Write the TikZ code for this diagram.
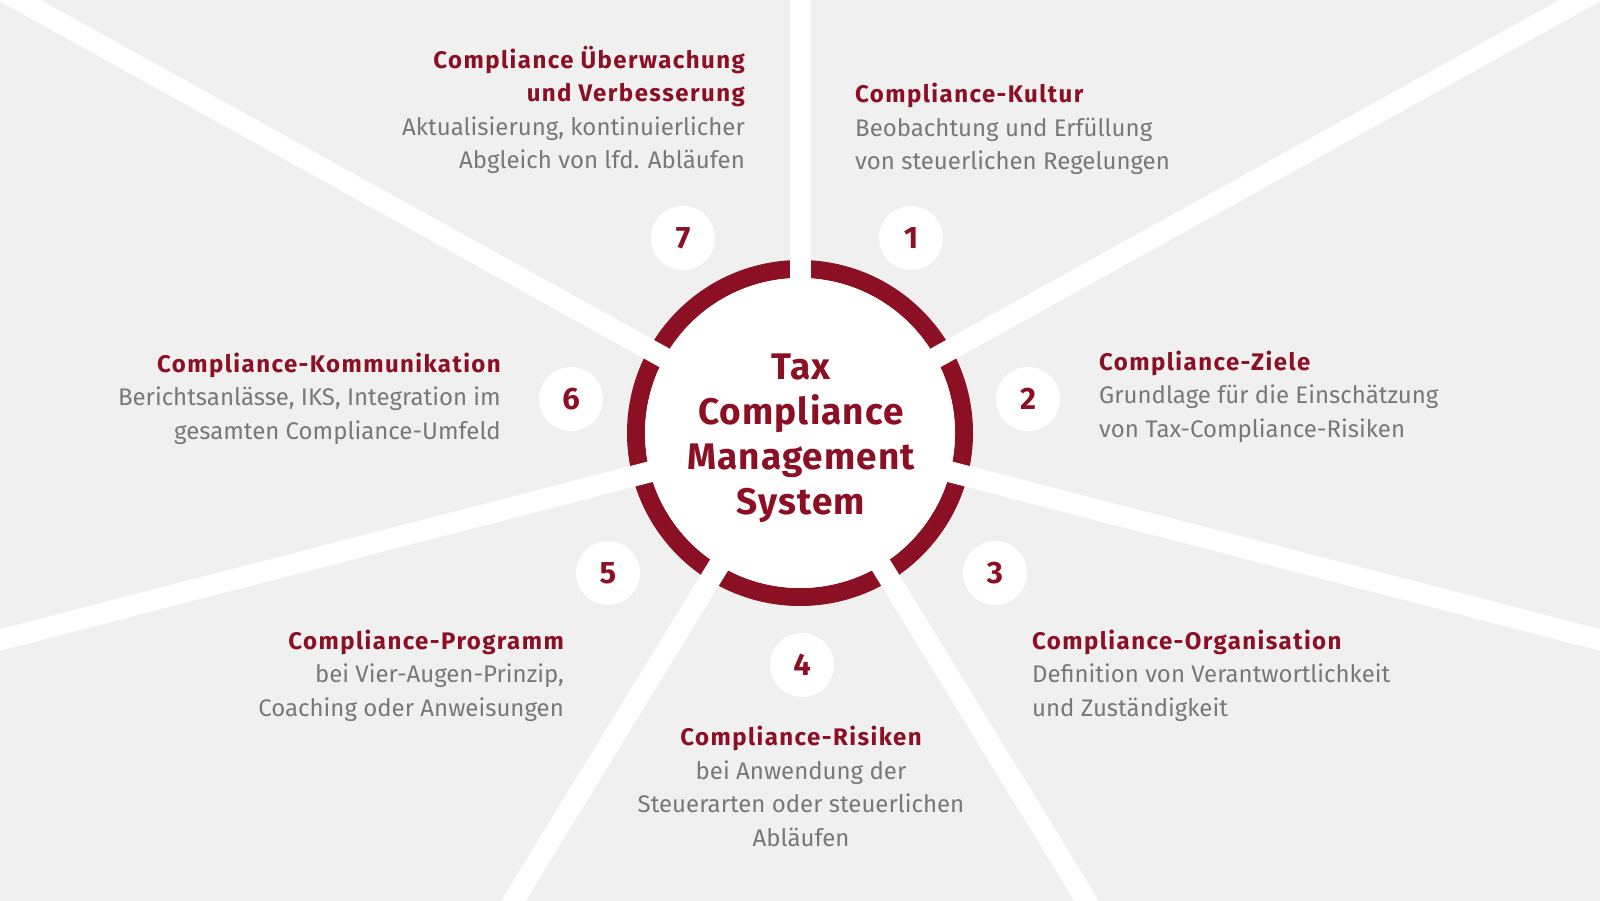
\documentclass[tikz,border=0pt]{standalone}
\usepackage{fontspec}
\setmainfont{Fira Sans}
\definecolor{tcmred}{HTML}{8C1024}
\definecolor{tcmback}{HTML}{F0F0F0}
\definecolor{tcmtext}{HTML}{787878}
\newcommand\tcmhead[1]{{\fontsize{24}{33.5}\selectfont\addfontfeatures{LetterSpace=6}\bfseries\color{tcmred}#1}}
\begin{document}
\begin{tikzpicture}
[x=1pt,y=-1pt,
  raydecorate/.style={draw=white,line width=21pt},
  ringdecorate/.style={draw=tcmred,line width=18pt},
  hubdecorate/.style={shape=circle,fill=white,minimum size=310pt,inner sep=0pt},
  titledecorate/.style={align=center,inner sep=0pt,text=tcmred,
    font=\bfseries\fontsize{37}{45}\selectfont\addfontfeatures{LetterSpace=3}},
  numdecorate/.style={shape=circle,fill=white,minimum size=64pt,inner sep=0pt,
    text=tcmred,font=\bfseries\fontsize{31}{31}\selectfont},
  textdecorate/.style={inner sep=0pt,text=tcmtext,font=\fontsize{24}{33.5}\selectfont}]
%% background
\useasboundingbox (0,0) rectangle (1600,901);
\clip (0,0) rectangle (1600,901);
\fill[tcmback] (0,0) rectangle (1600,901);
\coordinate (c) at (800,433);
%% ring and rays
\draw[ringdecorate] (c) circle[radius=164];
\foreach \a in {-90,-29,14.5,58.5,121.5,165.5,-151}
  \draw[raydecorate] (c) -- ++(\a:1100);
%% hub
\node (hub) at (c) [hubdecorate] {};
\node (title) at (801,438) [titledecorate] {Tax\\Compliance\\Management\\System};
%% number circles
\node (n1) at (911,238) [numdecorate] {1};
\node (n2) at (1028,399) [numdecorate] {2};
\node (n3) at (995,573) [numdecorate] {3};
\node (n4) at (802,665) [numdecorate] {4};
\node (n5) at (608,573) [numdecorate] {5};
\node (n6) at (571,399) [numdecorate] {6};
\node (n7) at (683,238) [numdecorate] {7};
%% text blocks (anchored at the last baseline)
\node (t1) at (855,170) [textdecorate,anchor=base west,align=left]
  {\tcmhead{Compliance-Kultur}\\Beobachtung und Erfüllung\\von steuerlichen Regelungen};
\node (t2) at (1099,437) [textdecorate,anchor=base west,align=left]
  {\tcmhead{Compliance-Ziele}\\Grundlage für die Einschätzung\\von Tax-Compliance-Risiken};
\node (t3) at (1032,716) [textdecorate,anchor=base west,align=left]
  {\tcmhead{Compliance-Organisation}\\Definition von Verantwortlichkeit\\und Zuständigkeit};
\node (t4) at (801,846) [textdecorate,anchor=base,align=center]
  {\tcmhead{Compliance-Risiken}\\bei Anwendung der\\Steuerarten oder steuerlichen\\Abläufen};
\node (t5) at (564,716) [textdecorate,anchor=base east,align=right]
  {\tcmhead{Compliance-Programm}\\bei Vier-Augen-Prinzip,\\Coaching oder Anweisungen};
\node (t6) at (501,439) [textdecorate,anchor=base east,align=right]
  {\tcmhead{Compliance-Kommunikation}\\Berichtsanlässe, IKS, Integration im\\gesamten Compliance-Umfeld};
\node (t7) at (745,169) [textdecorate,anchor=base east,align=right]
  {\tcmhead{Compliance Überwachung}\\\tcmhead{und Verbesserung}\\Aktualisierung, kontinuierlicher\\Abgleich von lfd. Abläufen};
\end{tikzpicture}
\end{document}
